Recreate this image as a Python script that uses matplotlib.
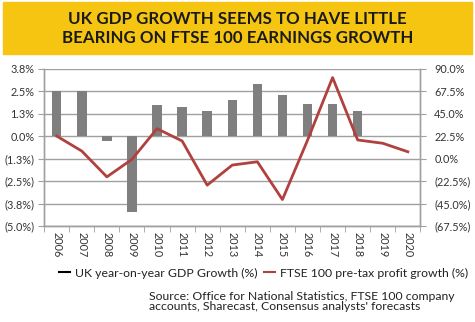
import matplotlib.pyplot as plt
from matplotlib.lines import Line2D
from matplotlib.patches import Rectangle

plt.rcParams['font.family'] = ['Lato', 'DejaVu Sans']

years = [str(y) for y in range(2006, 2021)]
gdp_growth = [2.5, 2.5, -0.3, -4.2, 1.7, 1.6, 1.4, 2.0, 2.9, 2.3, 1.8, 1.8, 1.4]
profit_growth = [22.5, 7.5, -18.3, -0.8, 29.9, 17.6, -26.6, -6.5, -3.2, -41.0,
                 18.3, 81.0, 18.6, 15.3, 6.8]

left_ticks = [3.75, 2.5, 1.25, 0.0, -1.25, -2.5, -3.75, -5.0]
left_labels = ['3.8%', '2.5%', '1.3%', '0.0%', '(1.3%)', '(2.5%)', '(3.8%)', '(5.0%)']
right_ticks = [90, 67.5, 45, 22.5, 0, -22.5, -45, -67.5]
right_labels = ['90.0%', '67.5%', '45.0%', '22.5%', '0.0%', '(22.5%)', '(45.0%)', '(67.5%)']

title = 'UK GDP GROWTH SEEMS TO HAVE LITTLE\nBEARING ON FTSE 100 EARNINGS GROWTH'
source = ("Source: Office for National Statistics, FTSE 100 company\n"
          "accounts, Sharecast, Consensus analysts' forecasts")

grey = '#7f7f7f'
red = '#b0413e'
axis_col = '#a0a0a0'
text_col = '#333333'

fig = plt.figure(figsize=(4.75, 3.22), dpi=100)

# yellow title banner
fig.patches.append(Rectangle((0.006, 0.832), 0.988, 0.162, transform=fig.transFigure,
                             color='#f6c511', zorder=0))
fig.text(0.5, 0.912, title, ha='center', va='center', fontsize=12.2,
         fontweight='bold', color='#1a1a1a', linespacing=1.2)

ax = fig.add_axes([0.093, 0.298, 0.792, 0.489])
x = list(range(len(years)))

ax.bar(x[:len(gdp_growth)], gdp_growth, width=0.38, color=grey, zorder=2)
ax.set_xlim(-0.5, len(years) - 0.5)
ax.set_ylim(-5.0, 3.75)
ax.set_yticks(left_ticks)
ax.set_yticklabels(left_labels)
ax.yaxis.grid(True, color=axis_col, linewidth=1.0, zorder=0)
ax.set_axisbelow(True)

ax.set_xticks(x)
ax.set_xticklabels(years, rotation=270, fontsize=7.8, color=text_col)
ax.set_xticks([i - 0.5 for i in range(len(years) + 1)], minor=True)
ax.tick_params(axis='x', which='major', length=0, pad=4)
ax.tick_params(axis='x', which='minor', length=4, color=axis_col)
ax.tick_params(axis='y', length=4, color=axis_col, labelsize=7.8,
               labelcolor=text_col, pad=3)

ax2 = ax.twinx()
line, = ax2.plot(x, profit_growth, color=red, linewidth=2.0, zorder=3)
ax2.set_ylim(-67.5, 90)
ax2.set_yticks(right_ticks)
ax2.set_yticklabels(right_labels)
ax2.tick_params(axis='y', length=4, color=axis_col, labelsize=7.8,
                labelcolor=text_col, pad=6)

for a in (ax, ax2):
    for sp in a.spines.values():
        sp.set_color(axis_col)
        sp.set_linewidth(1.0)
    a.spines['top'].set_visible(False)

handles = [Line2D([], [], color='black', linewidth=1.5),
           Line2D([], [], color=red, linewidth=1.5)]
fig.legend(handles, ['UK year-on-year GDP Growth (%)', 'FTSE 100 pre-tax profit growth (%)'],
           loc='center', bbox_to_anchor=(0.555, 0.152), ncol=2, frameon=False,
           fontsize=8.8, handlelength=0.9, handletextpad=0.4, columnspacing=0.6,
           labelcolor='#222222')

fig.text(0.313, 0.063, source, ha='left', va='center', fontsize=8.8,
         color='#222222', linespacing=0.95)

fig.savefig('out.png', dpi=100)
